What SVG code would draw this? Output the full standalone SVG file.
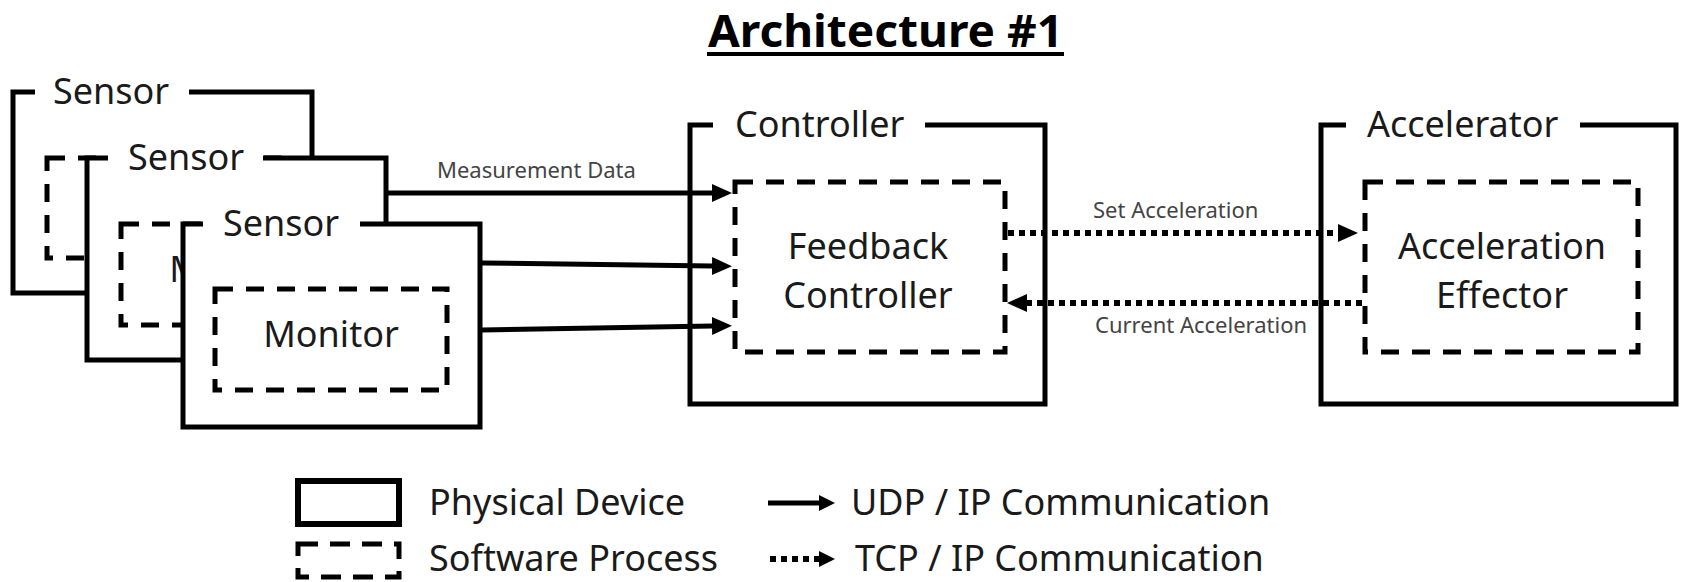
<svg xmlns="http://www.w3.org/2000/svg" width="1682" height="582" viewBox="0 0 1682 582">
  <defs>
    <style>
      .dev { fill: #fff; stroke: #000; stroke-width: 5; }
      .proc { fill: none; stroke: #000; stroke-width: 5; stroke-dasharray: 18 13; }
      .gap { fill: #fff; }
      .lbl { font-family: "Noto Sans", "Open Sans", "DejaVu Sans", sans-serif; font-size: 36px; fill: #1a1a1a; }
      .leg { font-family: "Noto Sans", "Open Sans", "DejaVu Sans", sans-serif; font-size: 36px; fill: #1a1a1a; }
      .small { font-family: "Noto Sans", "Open Sans", "DejaVu Sans", sans-serif; font-size: 22px; fill: #444; }
      .mid { text-anchor: middle; }
      .udp { fill: none; stroke: #000; stroke-width: 5; }
      .tcp { fill: none; stroke: #000; stroke-width: 6; stroke-dasharray: 6 5; }
      .title { font-family: "Noto Sans", "Open Sans", "DejaVu Sans", sans-serif; font-size: 45px; font-weight: bold; fill: #000; }
    </style>
    <marker id="head" markerUnits="userSpaceOnUse" markerWidth="20" markerHeight="18" viewBox="0 0 20 18" refX="0" refY="9" orient="auto">
      <path d="M0,0 L20,9 L0,18 z" fill="#000"/>
    </marker>
    <marker id="head-sm" markerUnits="userSpaceOnUse" markerWidth="16" markerHeight="16" viewBox="0 0 16 16" refX="0" refY="8" orient="auto">
      <path d="M0,0 L16,8 L0,16 z" fill="#000"/>
    </marker>
  </defs>

  <rect width="1682" height="582" fill="#fff"/>

  <!-- title -->
  <g id="title">
    <text class="title" x="708" y="47" textLength="355" lengthAdjust="spacingAndGlyphs">Architecture #1</text>
    <line x1="707" y1="54" x2="1064" y2="54" stroke="#000" stroke-width="4"/>
  </g>

  <!-- stacked sensor devices, back to front -->
  <g id="sensor-1">
    <rect class="dev" x="13" y="92" width="299" height="201"/>
    <rect class="gap" x="35" y="86" width="154" height="12"/>
    <text class="lbl" x="53" y="104">Sensor</text>
    <rect class="proc" x="47" y="158" width="232" height="100"/>
  </g>

  <g id="sensor-2">
    <rect class="dev" x="87" y="158" width="299" height="202"/>
    <rect class="gap" x="108" y="152" width="155" height="12"/>
    <text class="lbl" x="128" y="170">Sensor</text>
    <rect class="proc" x="121" y="224" width="232" height="101"/>
    <text class="lbl mid" x="237" y="282">Monitor</text>
  </g>

  <g id="sensor-3">
    <rect class="dev" x="183" y="224" width="297" height="203"/>
    <rect class="gap" x="203" y="218" width="157" height="12"/>
    <text class="lbl" x="223" y="236">Sensor</text>
    <rect class="proc" x="215" y="289" width="232" height="101"/>
    <text class="lbl mid" x="331" y="347">Monitor</text>
  </g>

  <!-- controller device -->
  <g id="controller">
    <rect class="dev" x="690" y="125" width="355" height="279"/>
    <rect class="gap" x="713" y="119" width="212" height="12"/>
    <text class="lbl" x="735" y="137">Controller</text>
    <rect class="proc" x="735" y="182" width="270" height="170"/>
    <text class="lbl mid" x="868" y="259">Feedback</text>
    <text class="lbl mid" x="868" y="308">Controller</text>
  </g>

  <!-- accelerator device -->
  <g id="accelerator">
    <rect class="dev" x="1321" y="125" width="355" height="279"/>
    <rect class="gap" x="1346" y="119" width="234" height="12"/>
    <text class="lbl" x="1367" y="137">Accelerator</text>
    <rect class="proc" x="1365" y="182" width="273" height="170"/>
    <text class="lbl mid" x="1502" y="259">Acceleration</text>
    <text class="lbl mid" x="1502" y="308">Effector</text>
  </g>

  <!-- connectors -->
  <g id="connectors">
    <path class="udp" d="M387,193 L712,193" marker-end="url(#head)"/>
    <path class="udp" d="M482,263 L712,266" marker-end="url(#head)"/>
    <path class="udp" d="M482,330 L712,326" marker-end="url(#head)"/>
    <text class="small" x="437" y="178">Measurement Data</text>

    <path class="tcp" d="M1008,233 L1338,233" marker-end="url(#head)"/>
    <text class="small" x="1093" y="218">Set Acceleration</text>

    <path class="tcp" d="M1362,303 L1027,303" marker-end="url(#head)"/>
    <text class="small" x="1095" y="333">Current Acceleration</text>
  </g>

  <!-- legend -->
  <g id="legend">
    <rect x="298" y="481" width="101" height="43" fill="none" stroke="#000" stroke-width="6"/>
    <text class="leg" x="429" y="515">Physical Device</text>
    <rect x="298" y="544" width="101" height="33" fill="none" stroke="#000" stroke-width="5" stroke-dasharray="20 12"/>
    <text class="leg" x="429" y="571">Software Process</text>

    <path class="udp" d="M768,503 L819,503" marker-end="url(#head-sm)"/>
    <text class="leg" x="851" y="515">UDP / IP Communication</text>
    <path class="tcp" d="M770,559 L819,559" marker-end="url(#head-sm)"/>
    <text class="leg" x="855" y="571">TCP / IP Communication</text>
  </g>
</svg>
